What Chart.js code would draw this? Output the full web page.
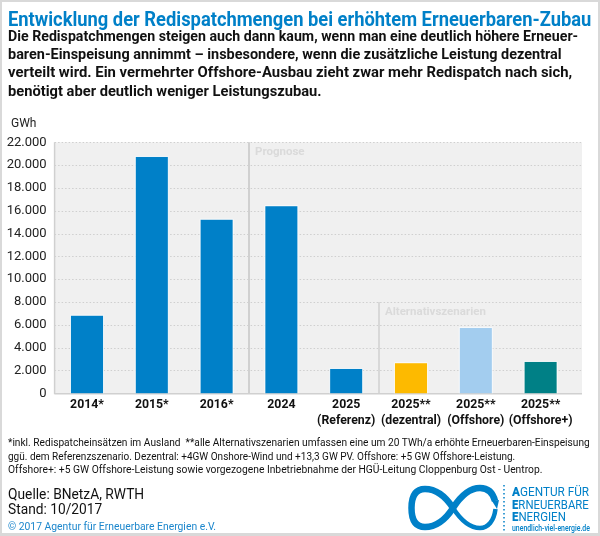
<!DOCTYPE html>
<html lang="de">
<head>
<meta charset="utf-8">
<title>Redispatchmengen</title>
<script src="https://cdn.jsdelivr.net/npm/chart.js@4"></script>
<style>
html, body { margin: 0; padding: 0; background: #d9d9d9; }
#page { position: relative; width: 600px; height: 536px; overflow: hidden; font-family: "Roboto", sans-serif; color: #111; }
#sheet { position: absolute; left: 2px; top: 2px; width: 596px; height: 531px; background: #fff; }
#graph { position: absolute; left: 0; top: 0; }
.t { position: absolute; left: 8px; white-space: nowrap; transform-origin: 0 50%; line-height: 20px; margin-top: -10px; }
#title { font-size: 20.5px; font-weight: 700; color: #0080c8; }
.lead { font-size: 14.5px; font-weight: 700; }
.note { font-size: 11px; }
.src { font-size: 15.5px; }
#copy { font-size: 10.5px; color: #1b86cc; }
.logo { left: 512px; font-size: 13.6px; color: #0080c8; }
.logo b { font-weight: 900; }
#url { left: 512px; font-size: 8.5px; font-weight: 500; color: #0080c8; }
#logo { position: absolute; left: 404px; top: 483px; }
</style>
</head>
<body>
<div id="page">
	<div id="sheet"></div>
	<canvas id="graph" width="600" height="536"></canvas>
	<div class="t" id="title" data-w="583" style="top:19px">Entwicklung der Redispatchmengen bei erhöhtem Erneuerbaren-Zubau</div>
	<div class="t lead" data-w="570" style="top:37px">Die Redispatchmengen steigen auch dann kaum, wenn man eine deutlich höhere Erneuer-</div>
	<div class="t lead" data-w="554" style="top:55px">baren-Einspeisung annimmt – insbesondere, wenn die zusätzliche Leistung dezentral</div>
	<div class="t lead" data-w="564" style="top:73px">verteilt wird. Ein vermehrter Offshore-Ausbau zieht zwar mehr Redispatch nach sich,</div>
	<div class="t lead" data-w="314" style="top:92px">benötigt aber deutlich weniger Leistungszubau.</div>
	<div class="t note" data-w="582" style="top:443px">*inkl. Redispatcheinsätzen im Ausland&nbsp; **alle Alternativszenarien umfassen eine um 20 TWh/a erhöhte Erneuerbaren-Einspeisung</div>
	<div class="t note" data-w="507" style="top:456.5px">ggü. dem Referenzszenario. Dezentral: +4GW Onshore-Wind und +13,3 GW PV. Offshore: +5 GW Offshore-Leistung.</div>
	<div class="t note" data-w="534" style="top:469.5px">Offshore+: +5 GW Offshore-Leistung sowie vorgezogene Inbetriebnahme der HGÜ-Leitung Cloppenburg Ost - Uentrop.</div>
	<div class="t src" data-w="136" style="top:494px">Quelle: BNetzA, RWTH</div>
	<div class="t src" data-w="94" style="top:508.5px">Stand: 10/2017</div>
	<div class="t" id="copy" data-w="208" style="top:526.5px">© 2017 Agentur für Erneuerbare Energien e.V.</div>
	<svg id="logo" width="108" height="50" viewBox="0 0 108 50">
		<path d="M49 25 C40 11 31 6 21 6 C11 6 7.500 14 7.500 25 C7.500 36 11 44 21 44 C31 44 40 39 49 25 C58 11 66 5 76 5 C84 5 89 10 91 18" fill="none" stroke="#0080c8" stroke-width="6.500"/>
		<path d="M49 25 C58 39 66 45 76 45 C84 45 90 38 91.500 26" fill="none" stroke="#0080c8" stroke-width="4.500"/>
		<path d="M88 18 L95 17 L93 26 Z" fill="#0080c8"/>
		<path d="M100 2 V48" stroke="#0080c8" stroke-width="1.500" stroke-dasharray="1.500 2.500"/>
	</svg>
	<div class="t logo" data-w="77" style="top:491px"><b>A</b>GENTUR FÜR</div>
	<div class="t logo" data-w="77" style="top:503.500px"><b>E</b>RNEUERBARE</div>
	<div class="t logo" data-w="54" style="top:516px"><b>E</b>NERGIEN</div>
	<div class="t" id="url" data-w="78" style="top:527.500px">unendlich-viel-energie.de</div>
</div>
<script>
var categories = [["2014*"], ["2015*"], ["2016*"], ["2024"], ["2025", "(Referenz)"], ["2025**", "(dezentral)"], ["2025**", "(Offshore)"], ["2025**", "(Offshore+)"]];
var redispatch = [6800, 20710, 15215, 16390, 2130, 2630, 5720, 2745];
var barColors = ["#0080c8", "#0080c8", "#0080c8", "#0080c8", "#0080c8", "#fdba00", "#a3cdef", "#008086"];
var yMax = 22000;
var yStep = 2000;
var unitLabel = "GWh";

// Die Schrift im Original ist schmaler als alles Installierte, also auf Zielbreite stauchen
document.querySelectorAll('.t').forEach(function(el) {
	var target = parseFloat(el.dataset.w);
	el.style.transform = 'scaleX(' + (target / el.offsetWidth) + ')';
});

// Flaeche, Raster und Trennlinien laufen rechts etwas ueber die letzte Kategorie hinaus
var plotRight = 582;

var backdrop = {
	id: 'backdrop',
	beforeDatasetsDraw: function(chart) {
		var c = chart.ctx, a = chart.chartArea, y = chart.scales.y;
		c.save();
		c.fillStyle = '#f0f0f0';
		c.fillRect(a.left, a.top, plotRight - a.left, a.bottom - a.top);
		c.strokeStyle = '#cfcfcf';
		c.lineWidth = 1;
		c.setLineDash([1.5, 2]);
		for (var v = yStep; v <= yMax; v += yStep) {
			var py = Math.round(y.getPixelForValue(v)) + 0.5;
			c.beginPath();
			c.moveTo(a.left, py);
			c.lineTo(plotRight, py);
			c.stroke();
		}
		c.setLineDash([]);
		c.strokeStyle = '#d0d0d0';
		c.lineWidth = 1.5;
		c.beginPath();
		c.moveTo(a.left, a.top);
		c.lineTo(a.left, a.bottom + 1);
		c.moveTo(a.left, a.bottom + 0.5);
		c.lineTo(plotRight, a.bottom + 0.5);
		c.stroke();
		// Prognose / Alternativszenarien
		c.lineWidth = 2;
		c.beginPath();
		c.moveTo(249, a.top);
		c.lineTo(249, a.bottom);
		c.stroke();
		c.lineWidth = 1.5;
		c.beginPath();
		c.moveTo(379, y.getPixelForValue(8000));
		c.lineTo(379, a.bottom);
		c.stroke();
		c.fillStyle = '#dadada';
		c.font = '700 11.5px Roboto';
		c.textBaseline = 'middle';
		c.fillText('Prognose', 255, 152, 52);
		c.fillText('Alternativszenarien', 385, 312, 108);
		c.fillStyle = '#222';
		c.font = '12px Roboto';
		c.fillText(unitLabel, 11, 124);
		c.restore();
	},
	afterDatasetsDraw: function(chart) {
		// schmaler heller Rand um die Balken wie im Original
		var c = chart.ctx;
		c.save();
		c.strokeStyle = 'rgba(255,255,255,0.75)';
		c.lineWidth = 1;
		chart.getDatasetMeta(0).data.forEach(function(bar) {
			var hw = bar.width / 2;
			c.beginPath();
			c.moveTo(bar.x - hw - 0.5, bar.base);
			c.lineTo(bar.x - hw - 0.5, bar.y - 0.5);
			c.lineTo(bar.x + hw + 0.5, bar.y - 0.5);
			c.lineTo(bar.x + hw + 0.5, bar.base);
			c.stroke();
		});
		c.restore();
	}
};

var ctx = document.getElementById('graph').getContext('2d');
var myChart = new Chart(ctx, {
	type: 'bar',
	data: {
		labels: categories,
		datasets: [{
			data: redispatch,
			backgroundColor: barColors,
			borderWidth: 0,
			barThickness: 32
		}]
	},
	options: {
		animation: false,
		responsive: false,
		layout: { padding: { left: 0, top: 142.3, right: 27, bottom: 0 } },
		plugins: { legend: { display: false }, tooltip: { enabled: false } },
		scales: {
			y: {
				min: 0,
				max: yMax,
				afterFit: function(axis) { axis.width = 54.6; },
				border: { display: false },
				grid: { display: false, drawTicks: false },
				ticks: {
					stepSize: yStep,
					autoSkip: false,
					padding: 8,
					color: '#222',
					font: { family: 'Roboto', size: 13 },
					callback: function(value) {
						return value.toLocaleString('de-DE');
					}
				}
			},
			x: {
				afterFit: function(axis) { axis.height = 142.7; },
				border: { display: false },
				grid: { display: false, drawTicks: false },
				ticks: {
					padding: 4,
					maxRotation: 0,
					autoSkip: false,
					color: '#111',
					font: { family: 'Roboto', size: 12.3, weight: '700', lineHeight: 1.3 }
				}
			}
		}
	},
	plugins: [backdrop]
});
</script>
</body>
</html>
